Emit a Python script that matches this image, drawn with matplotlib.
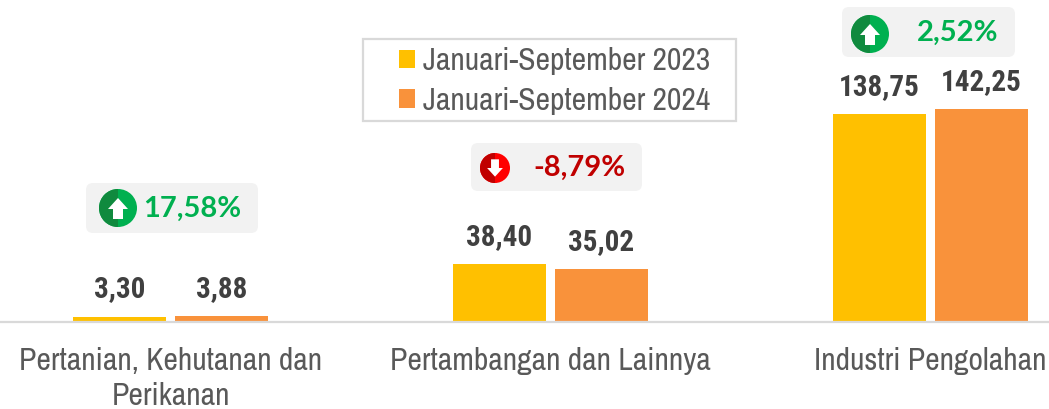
import matplotlib
matplotlib.use('Agg')
import matplotlib.pyplot as plt
from matplotlib.patches import FancyBboxPatch, Circle, Wedge, Polygon, Rectangle

categories = ['Pertanian, Kehutanan dan\nPerikanan', 'Pertambangan dan Lainnya', 'Industri Pengolahan']
values_2023 = [3.30, 38.40, 138.75]
values_2024 = [3.88, 35.02, 142.25]
labels_2023 = ['3,30', '38,40', '138,75']
labels_2024 = ['3,88', '35,02', '142,25']
series_names = ['Januari-September 2023', 'Januari-September 2024']
changes = ['17,58%', '-8,79%', '2,52%']
directions = ['up', 'down', 'up']

narrow = ['Archivo Narrow', 'Liberation Sans']
narrow_bold = ['Roboto Condensed', 'Asap Condensed', 'Liberation Sans']

W, H = 1049, 409
BASE = 321.5
fig = plt.figure(figsize=(W / 100, H / 100), dpi=100)

# main axes: top of figure down to the baseline
ax = fig.add_axes([0, 1 - BASE / H, 1, BASE / H])
ax.set_xlim(-170.5 / 380, (W - 170.5) / 380)
ax.set_ylim(0, BASE / 1.495)
ax.patch.set_alpha(0)

width = 93 / 380
offset = 51 / 380
pos = list(range(len(categories)))
b1 = ax.bar([p - offset for p in pos], values_2023, width, color='#FFC000', label=series_names[0])
b2 = ax.bar([p + offset for p in pos], values_2024, width, color='#F9923B', label=series_names[1])

for bars, labs in ((b1, labels_2023), (b2, labels_2024)):
    for r, t in zip(bars, labs):
        ax.annotate(t, (r.get_x() + r.get_width() / 2, r.get_height()), xytext=(0, 13),
                    textcoords='offset pixels', ha='center', va='bottom',
                    fontsize=21, fontweight='bold', family=narrow_bold, color='#404040')

for s in ['top', 'left', 'right']:
    ax.spines[s].set_visible(False)
ax.spines['bottom'].set_color('#D9D9D9')
ax.spines['bottom'].set_linewidth(1.6)
ax.set_yticks([])
ax.set_xticks(pos)
ax.set_xticklabels(categories, fontsize=22.8, family=narrow, color='#595959', linespacing=1.28)
ax.tick_params(axis='x', length=0, pad=18.5)

leg = ax.legend(loc='upper left', bbox_to_anchor=(393 / W, (BASE - 41) / BASE), frameon=False,
                prop={'family': narrow, 'size': 22.8}, labelcolor='#595959', handlelength=0.5,
                handleheight=0.5, handletextpad=0.26, labelspacing=0.36, borderpad=0.2, borderaxespad=0)

# overlay in pixel coordinates for the legend frame and change badges
ov = fig.add_axes([0, 0, 1, 1], zorder=-1)
ov.set_xlim(0, W)
ov.set_ylim(H, 0)
ov.axis('off')
ov.add_patch(Rectangle((363, 39), 373, 82, fill=False, ec='#D9D9D9', lw=1.6))

top = fig.add_axes([0, 0, 1, 1], zorder=5)
top.set_xlim(0, W)
top.set_ylim(H, 0)
top.axis('off')
top.patch.set_alpha(0)

badges = [(86, 183, 172, 50, 118, 208, 19), (471, 143, 171, 48, 495, 168, 15), (842, 7, 173, 50, 870, 34, 19)]
text_x = [192, 579, 958]
for (x, y, w, h, cx, cy, r), ch, d, tx in zip(badges, changes, directions, text_x):
    top.add_patch(FancyBboxPatch((x + 7, y + 7), w - 14, h - 14, boxstyle='round,pad=7,rounding_size=7',
                                 fc='#F2F2F2', ec='none'))
    light, dark, col = ('#00B050', '#108A3E', '#00B050') if d == 'up' else ('#FF0000', '#C00000', '#C00000')
    top.add_patch(Circle((cx, cy), r, fc=light, ec='none'))
    top.add_patch(Wedge((cx, cy), r, 90, 270, fc=dark, ec='none'))
    s = r / 19
    if d == 'up':
        pts = [(0, -10), (10, 1), (5, 1), (5, 11), (-5, 11), (-5, 1), (-10, 1)]
    else:
        pts = [(0, 11), (10, 0), (5, 0), (5, -11), (-5, -11), (-5, 0), (-10, 0)]
    top.add_patch(Polygon([(cx + a * s, cy + b * s) for a, b in pts], fc='white', ec='none'))
    top.text(tx, y + h / 2 + 1, ch, ha='center', va='center', fontsize=21, fontweight='bold',
             family='Lato', color=col)

fig.savefig('out.png', dpi=100)
